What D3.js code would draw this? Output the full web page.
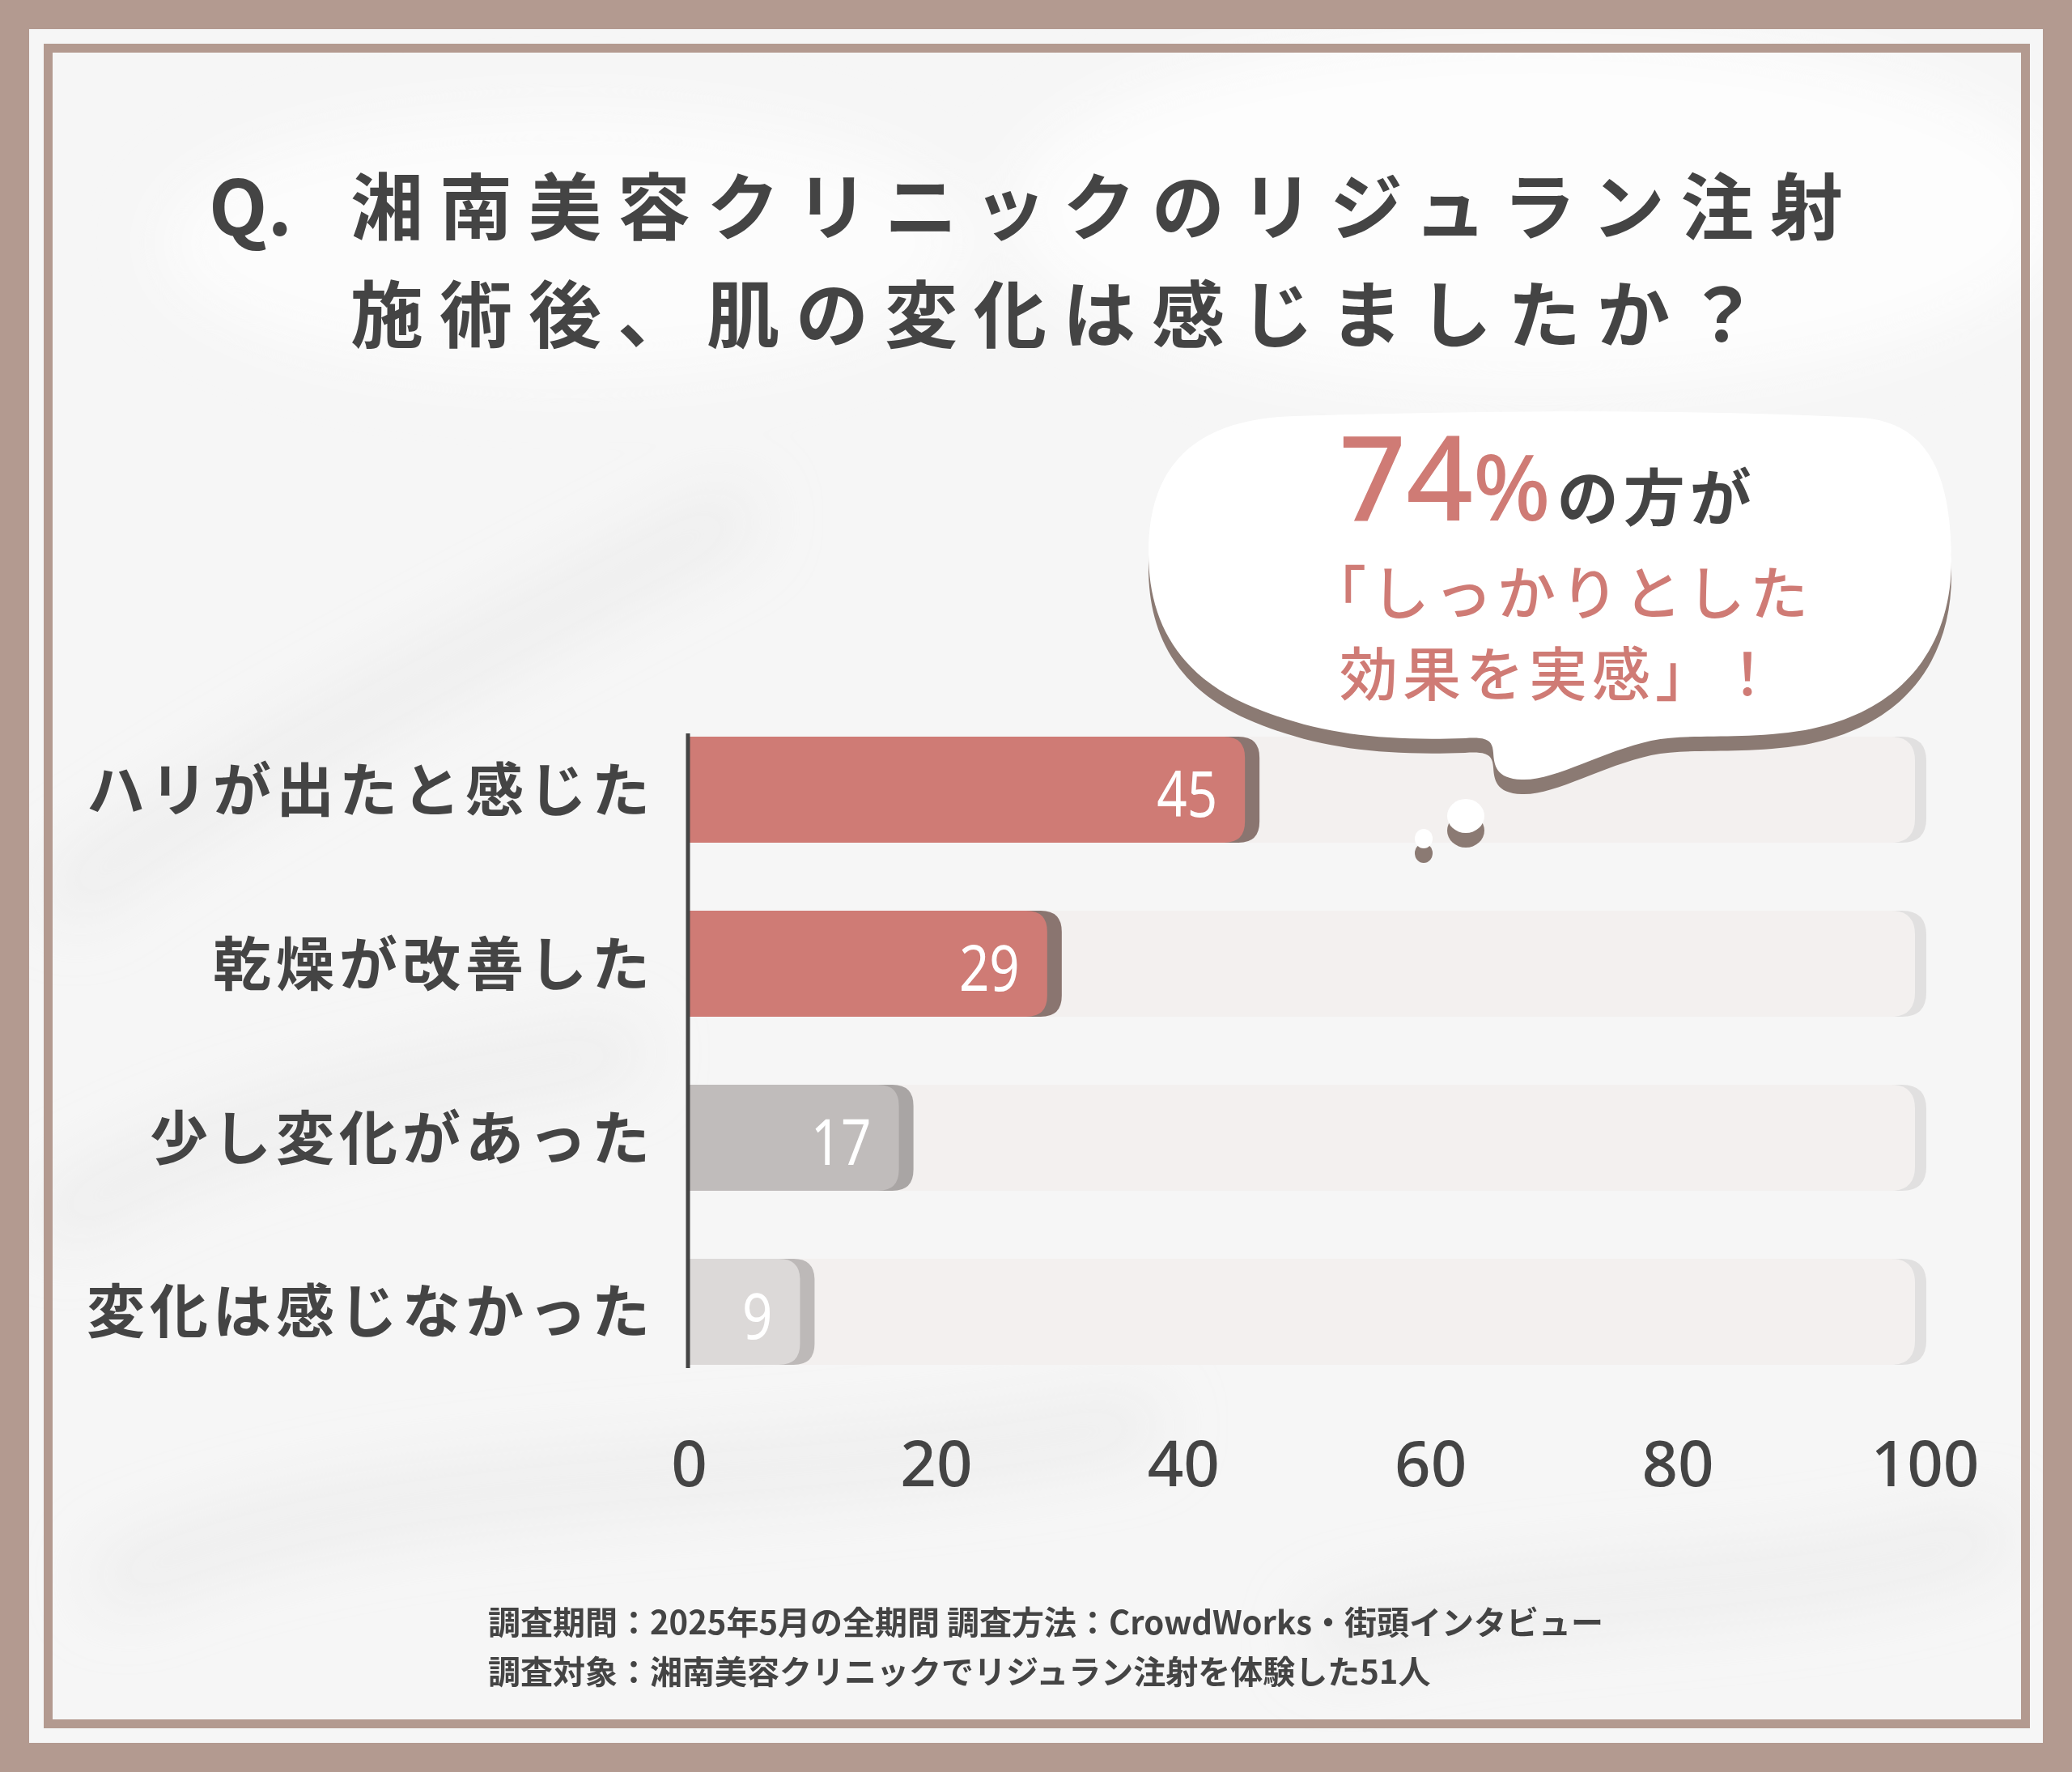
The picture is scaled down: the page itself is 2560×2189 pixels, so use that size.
<!DOCTYPE html>
<html>
<head>
<meta charset="utf-8">
<script src="https://cdn.jsdelivr.net/npm/d3@7"></script>
<style>
  html, body { margin: 0; padding: 0; background: #b39a90; }
  svg { display: block; }
</style>
</head>
<body>
<svg id="chart"></svg>
<script>
var width = 2560;
var height = 2189;

// data
var categories = ["ハリが出たと感じた", "乾燥が改善した", "少し変化があった", "変化は感じなかった"];
var values = [45, 29, 17, 9];
var barColors = ["#cf7b75", "#cf7b75", "#c0bcbb", "#dcd9d8"];
var barShadows = ["#8a7570", "#8a7570", "#a9a5a4", "#bdb9b8"];
var tickValues = [0, 20, 40, 60, 80, 100];
var titleLines = ["湘南美容クリニックのリジュラン注射", "施術後、肌の変化は感じましたか？"];
var bubbleLines = ["「しっかりとした", "効果を実感」！"];
var footnotes = ["調査期間：2025年5月の全期間 調査方法：CrowdWorks・街頭インタビュー",
                 "調査対象：湘南美容クリニックでリジュラン注射を体験した51人"];

var brown = "#b39a90";
var ink = "#444444";
var rose = "#cf7b75";
var jp = "'Noto Sans CJK JP', 'Noto Sans', sans-serif";

var svg = d3.select("#chart")
    .attr("width", width)
    .attr("height", height);

var defs = svg.append("defs");
defs.append("filter").attr("id", "blur")
    .attr("x", "-50%").attr("y", "-50%").attr("width", "200%").attr("height", "200%")
  .append("feGaussianBlur").attr("stdDeviation", 40);
defs.append("clipPath").attr("id", "inner")
  .append("rect")
    .attr("x", 36).attr("y", 36)
    .attr("width", width - 72).attr("height", 2153 - 36);

// frame
svg.append("rect")
    .attr("width", width).attr("height", height)
    .attr("fill", brown);
svg.append("rect")
    .attr("x", 36).attr("y", 36)
    .attr("width", width - 72).attr("height", 2153 - 36)
    .attr("fill", "#f6f6f6");

// faint marble-ish streaks in the background
var bg = svg.append("g")
    .attr("clip-path", "url(#inner)")
  .append("g")
    .attr("filter", "url(#blur)");
var streaks = [
  "M 90 1100 C 300 950, 600 800, 900 640",
  "M 80 1500 C 250 1400, 450 1350, 760 1300",
  "M 150 1950 C 500 1800, 900 1850, 1400 1760",
  "M 1650 2020 C 1900 1950, 2200 1980, 2450 1900"
];
bg.selectAll("path").data(streaks).enter().append("path")
    .attr("d", d => d)
    .attr("fill", "none")
    .attr("stroke", "#e6e6e6")
    .attr("stroke-width", 70)
    .attr("stroke-linecap", "round")
    .attr("opacity", 0.55);
bg.append("ellipse")
    .attr("cx", 1900).attr("cy", 260).attr("rx", 650).attr("ry", 220)
    .attr("fill", "#fdfdfd");
bg.append("ellipse")
    .attr("cx", 700).attr("cy", 300).attr("rx", 500).attr("ry", 160)
    .attr("fill", "#fcfcfc");

svg.append("rect")
    .attr("x", 59.5).attr("y", 59.5)
    .attr("width", 2443).attr("height", 2070)
    .attr("fill", "none")
    .attr("stroke", brown)
    .attr("stroke-width", 11);

// title
svg.append("text")
    .attr("x", 258).attr("y", 250)
    .attr("dominant-baseline", "central")
    .attr("font-family", jp).attr("font-weight", 700)
    .attr("font-size", 94).attr("fill", ink)
    .text("Q.");
svg.selectAll(".title").data(titleLines).enter().append("text")
    .attr("class", "title")
    .attr("x", 433)
    .attr("y", (d, i) => 250 + i * 133)
    .attr("dominant-baseline", "central")
    .attr("font-family", jp).attr("font-weight", 700)
    .attr("font-size", 90).attr("letter-spacing", 20)
    .attr("fill", ink)
    .text(d => d);

// scales
var xScale = d3.scaleLinear()
    .domain([0, 100])
    .range([851, 2378]);
var yScale = d3.scaleBand()
    .domain(categories)
    .range([910, 1686])
    .paddingInner(0.39)
    .paddingOuter(0);

var bh = yScale.bandwidth();
var rad = 26;

// right-rounded bar path
function barPath(x0, x1, y0, h, r) {
  r = Math.min(r, (x1 - x0), h / 2);
  return "M" + x0 + "," + y0 +
         "H" + (x1 - r) +
         "Q" + x1 + "," + y0 + " " + x1 + "," + (y0 + r) +
         "V" + (y0 + h - r) +
         "Q" + x1 + "," + (y0 + h) + " " + (x1 - r) + "," + (y0 + h) +
         "H" + x0 + "Z";
}

var rows = svg.append("g").selectAll("g")
    .data(categories).enter().append("g");

// background tracks
rows.append("path")
    .attr("d", d => barPath(xScale(0), xScale(100) + 2, yScale(d), bh, rad + 4))
    .attr("fill", "#e1e0e0");
rows.append("path")
    .attr("d", d => barPath(xScale(0), xScale(100) - 12, yScale(d), bh, rad + 4))
    .attr("fill", "#f3f0ef");

// value bars with shadow
rows.append("path")
    .attr("d", (d, i) => barPath(xScale(0), xScale(values[i]) + 18, yScale(d), bh, rad))
    .attr("fill", (d, i) => barShadows[i]);
rows.append("path")
    .attr("d", (d, i) => barPath(xScale(0), xScale(values[i]), yScale(d), bh, rad))
    .attr("fill", (d, i) => barColors[i]);

// condensed white value labels
rows.append("text")
    .attr("transform", (d, i) => "translate(" + (xScale(values[i]) - 34) + "," + (yScale(d) + bh / 2 + 3) + ") scale(0.84,1)")
    .attr("text-anchor", "end")
    .attr("dominant-baseline", "central")
    .attr("font-family", "'Noto Sans', sans-serif")
    .attr("font-size", 78)
    .attr("fill", "#ffffff")
    .text((d, i) => values[i]);

// category labels
var yAxis = d3.axisLeft(yScale).tickSize(0).tickPadding(0);
var yg = svg.append("g")
    .attr("transform", "translate(809,3)")
    .call(yAxis);
yg.select(".domain").remove();
yg.selectAll("text")
    .attr("font-family", jp).attr("font-weight", 700)
    .attr("font-size", 72).attr("letter-spacing", 6)
    .attr("fill", ink);

// axis line
svg.append("line")
    .attr("x1", 850).attr("x2", 850)
    .attr("y1", 906).attr("y2", 1690)
    .attr("stroke", ink).attr("stroke-width", 5);

// x tick labels
var xAxis = d3.axisBottom(xScale).tickValues(tickValues).tickSize(0).tickPadding(0);
var xg = svg.append("g")
    .attr("transform", "translate(0,1806)")
    .call(xAxis);
xg.select(".domain").remove();
xg.selectAll("text")
    .attr("dy", null)
    .attr("dominant-baseline", "central")
    .attr("font-family", "'Noto Sans', sans-serif")
    .attr("font-weight", 500)
    .attr("font-size", 78)
    .attr("fill", ink);

// speech bubble
var bubblePath = "M 1600 514 C 1850 506, 2100 506, 2300 516 " +
    "C 2385 522, 2410 590, 2411 690 " +
    "C 2412 800, 2350 880, 2230 902 " +
    "C 2150 915, 2090 905, 2040 915 " +
    "C 1980 928, 1920 965, 1880 963 " +
    "C 1848 962, 1846 945, 1845 930 " +
    "C 1844 915, 1838 910, 1810 912 " +
    "C 1700 916, 1620 905, 1540 870 " +
    "C 1450 830, 1418 760, 1419 680 " +
    "C 1420 580, 1470 518, 1600 514 Z";

var bubble = svg.append("g");
bubble.append("path")
    .attr("d", bubblePath)
    .attr("transform", "translate(0,18)")
    .attr("fill", "#8b7a73");
bubble.append("path")
    .attr("d", bubblePath)
    .attr("fill", "#ffffff");

var dots = [{x: 1811, y: 1008, rx: 23, ry: 21}, {x: 1759, y: 1036, rx: 11, ry: 12}];
bubble.selectAll(".dotShadow").data(dots).enter().append("ellipse")
    .attr("cx", d => d.x).attr("cy", d => d.y + 18)
    .attr("rx", d => d.rx).attr("ry", d => d.ry)
    .attr("fill", "#8b7a73");
bubble.selectAll(".dot").data(dots).enter().append("ellipse")
    .attr("cx", d => d.x).attr("cy", d => d.y)
    .attr("rx", d => d.rx).attr("ry", d => d.ry)
    .attr("fill", "#ffffff");

var line1 = bubble.append("text")
    .attr("x", 1912).attr("y", 643)
    .attr("text-anchor", "middle")
    .attr("font-family", "'Noto Sans', " + jp);
line1.append("tspan")
    .attr("font-size", 145).attr("font-weight", 500)
    .attr("fill", rose)
    .text("74");
line1.append("tspan")
    .attr("font-size", 112).attr("font-weight", 500)
    .attr("fill", rose)
    .text("%");
line1.append("tspan")
    .attr("font-family", jp)
    .attr("font-size", 76).attr("font-weight", 700)
    .attr("letter-spacing", 6)
    .attr("dx", 8)
    .attr("fill", ink)
    .text("の方が");

bubble.selectAll(".bline").data(bubbleLines).enter().append("text")
    .attr("x", 1928)
    .attr("y", (d, i) => 727 + i * 100)
    .attr("text-anchor", "middle")
    .attr("dominant-baseline", "central")
    .attr("font-family", jp).attr("font-weight", 500)
    .attr("font-size", 72).attr("letter-spacing", 6)
    .attr("fill", rose)
    .text(d => d);

// footnotes
svg.selectAll(".foot").data(footnotes).enter().append("text")
    .attr("x", 603)
    .attr("y", (d, i) => 2002 + i * 61)
    .attr("dominant-baseline", "central")
    .attr("font-family", jp).attr("font-weight", 700)
    .attr("font-size", 40)
    .attr("fill", ink)
    .text(d => d);
</script>
</body>
</html>
